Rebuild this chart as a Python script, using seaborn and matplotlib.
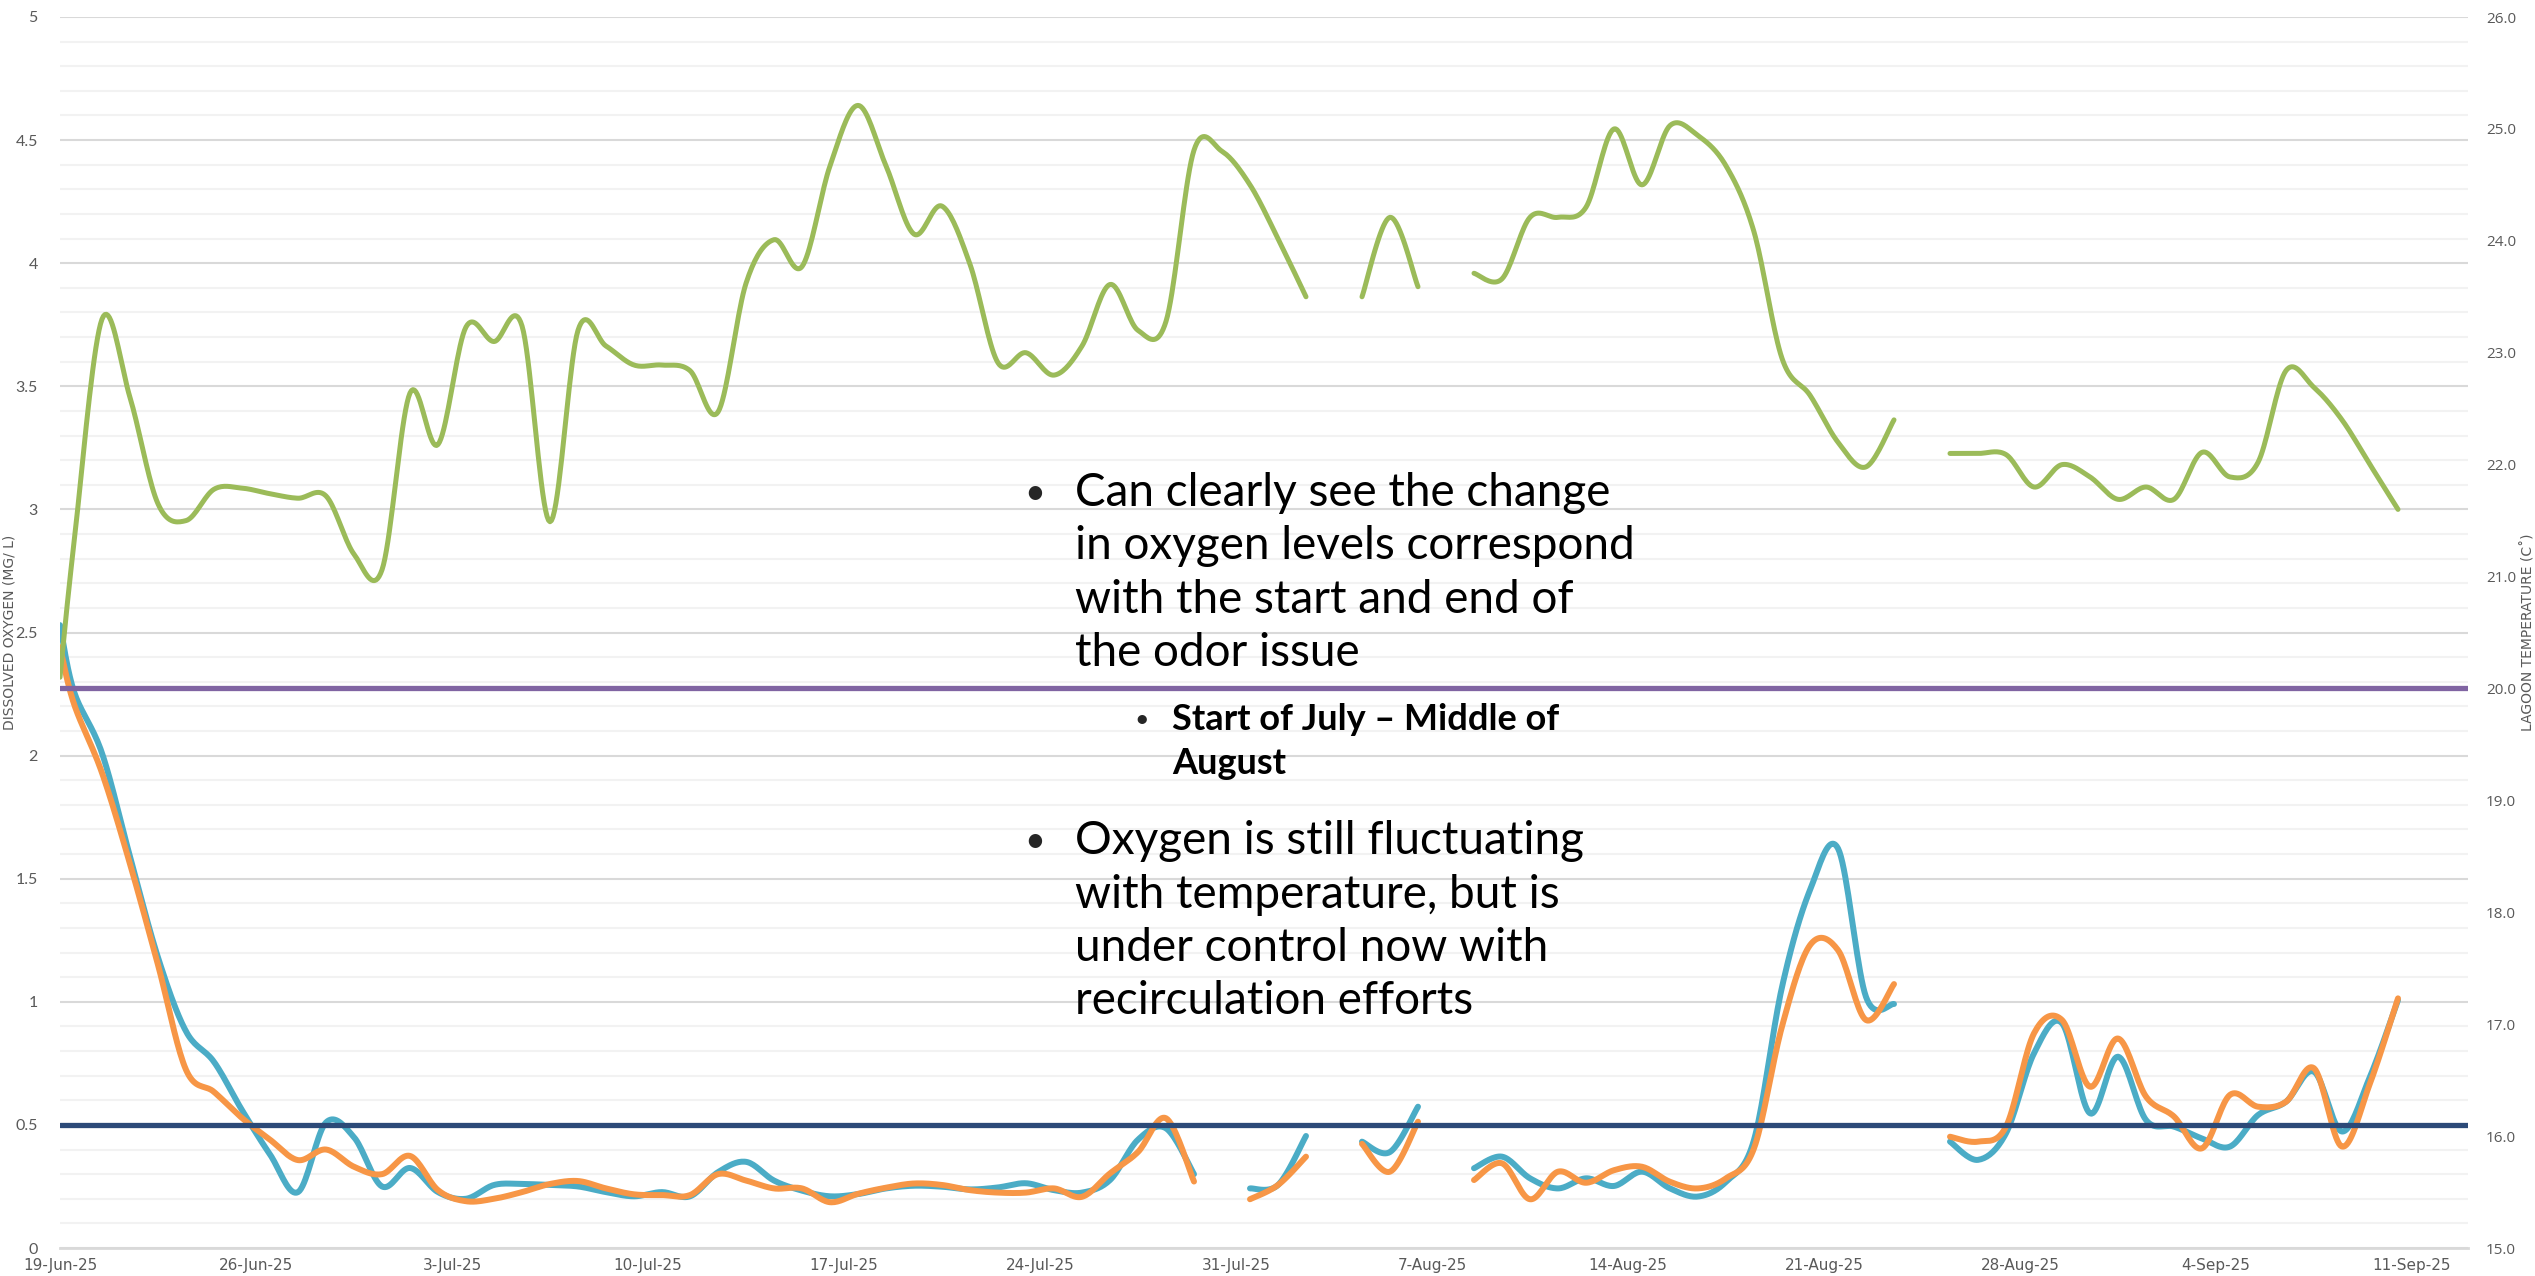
import numpy as np
import pandas as pd
import matplotlib
matplotlib.use("Agg")
import matplotlib.pyplot as plt
import seaborn as sns

sns.set_style("white")
plt.rcParams['font.family'] = ['Lato', 'DejaVu Sans']

# readings: first at midnight on 19-Jun, then daily around noon
start = pd.Timestamp("2025-06-19")
reading_times = pd.DatetimeIndex(["2025-06-19 00:00"]).append(
    pd.date_range("2025-06-19 12:00", periods=84, freq="D"))

nan = np.nan
lagoon_temp = [20.1, 21.3, 23.3, 22.6, 21.65, 21.5, 21.78, 21.79, 21.74, 21.7,
               21.72, 21.2, 21.06, 22.64, 22.18, 23.23, 23.1, 23.24, 21.49, 23.2,
               23.06, 22.89, 22.89, 22.84, 22.47, 23.62, 24.01, 23.77, 24.67, 25.21,
               24.67, 24.06, 24.31, 23.79, 22.91, 23.0, 22.8, 23.06, 23.61, 23.2,
               23.28, 24.81, 24.8, 24.5, 24.02, 23.5, nan, 23.5, 24.21, 23.59,
               nan, 23.71, 23.66, 24.21, 24.21, 24.3, 25.0, 24.5, 25.03, 24.94,
               24.67, 24.08, 22.95, 22.62, 22.2, 21.98, 22.4, nan, 22.1, 22.1,
               22.09, 21.8, 22.0, 21.89, 21.69, 21.8, 21.69, 22.11, 21.89, 22.02,
               22.84, 22.69, 22.4, 22.0, 21.6]

do_blue = [2.53, 2.26, 2.01, 1.59, 1.18, 0.88, 0.756, 0.56, 0.38, 0.227,
           0.51, 0.45, 0.25, 0.325, 0.227, 0.2, 0.256, 0.26, 0.256, 0.25,
           0.227, 0.21, 0.227, 0.21, 0.308, 0.35, 0.274, 0.233, 0.21, 0.219,
           0.242, 0.253, 0.249, 0.238, 0.246, 0.263, 0.235, 0.225, 0.276, 0.44,
           0.486, 0.30, nan, 0.242, 0.256, 0.455, nan, 0.432, 0.39, 0.574,
           nan, 0.324, 0.371, 0.283, 0.242, 0.283, 0.252, 0.31, 0.242, 0.209,
           0.269, 0.439, 1.06, 1.454, 1.623, 1.02, 0.991, nan, 0.432, 0.358,
           0.466, 0.791, 0.913, 0.547, 0.777, 0.52, 0.493, 0.445, 0.412, 0.54,
           0.594, 0.716, 0.473, 0.696, 1.007]

do_orange = [2.44, 2.21, 1.93, 1.56, 1.15, 0.724, 0.634, 0.528, 0.44, 0.357,
             0.40, 0.33, 0.30, 0.374, 0.235, 0.19, 0.2, 0.227, 0.26, 0.272,
             0.242, 0.218, 0.215, 0.215, 0.30, 0.274, 0.242, 0.242, 0.186, 0.22,
             0.245, 0.262, 0.256, 0.235, 0.225, 0.225, 0.242, 0.208, 0.303, 0.39,
             0.527, 0.27, nan, 0.198, 0.256, 0.371, nan, 0.423, 0.31, 0.513,
             nan, 0.276, 0.344, 0.198, 0.31, 0.265, 0.316, 0.33, 0.269, 0.242,
             0.283, 0.405, 0.9, 1.23, 1.21, 0.926, 1.072, nan, 0.452, 0.432,
             0.493, 0.872, 0.926, 0.655, 0.851, 0.615, 0.534, 0.405, 0.622, 0.574,
             0.594, 0.73, 0.412, 0.669, 1.014]

limit_times = pd.DatetimeIndex(["2025-06-19 00:00", "2025-09-13 12:00"])
temp_limit = [20.0, 20.0]
do_limit = [0.5, 0.5]

tick_labels = ["19-Jun-25", "26-Jun-25", "3-Jul-25", "10-Jul-25", "17-Jul-25",
               "24-Jul-25", "31-Jul-25", "7-Aug-25", "14-Aug-25", "21-Aug-25",
               "28-Aug-25", "4-Sep-25", "11-Sep-25"]


def to_days(t):
    return np.asarray((t - start) / pd.Timedelta(days=1), dtype=float)


def smooth(x, y, n=20):
    # excel style smoothed line, broken at missing values
    x = np.asarray(x, float)
    y = np.asarray(y, float)
    rows = []
    seg = 0
    ok = ~np.isnan(y)
    i = 0
    while i < len(y):
        if not ok[i]:
            i += 1
            continue
        j = i
        while j < len(y) and ok[j]:
            j += 1
        P = np.column_stack([x[i:j], y[i:j]])
        m = len(P)
        for k in range(m - 1):
            p0 = P[k - 1] if k > 0 else P[k]
            p3 = P[k + 2] if k + 2 < m else P[k + 1]
            c1 = P[k] + (P[k + 1] - p0) / 6
            c2 = P[k + 1] - (p3 - P[k]) / 6
            t = np.linspace(0, 1, n)[:, None]
            b = ((1 - t) ** 3 * P[k] + 3 * (1 - t) ** 2 * t * c1
                 + 3 * (1 - t) * t ** 2 * c2 + t ** 3 * P[k + 1])
            for bx, by in b:
                rows.append((bx, by, seg))
        seg += 1
        i = j
    return pd.DataFrame(rows, columns=["x", "y", "seg"])


days = to_days(reading_times)
lim_days = to_days(limit_times)

fig = plt.figure(figsize=(25.35, 12.76), dpi=100)
ax = fig.add_axes([60 / 2535, 28 / 1276, 2408 / 2535, 1231 / 1276])
ax2 = ax.twinx()

sns.lineplot(data=smooth(days, do_blue), x="x", y="y", units="seg", estimator=None,
             sort=False, color="#4BACC6", lw=4.3, solid_capstyle="round", ax=ax)
sns.lineplot(data=smooth(days, do_orange), x="x", y="y", units="seg", estimator=None,
             sort=False, color="#F79646", lw=4.3, solid_capstyle="round", ax=ax)
sns.lineplot(x=lim_days, y=do_limit, color="#2C4A78", lw=3.8,
             solid_capstyle="round", ax=ax)

sns.lineplot(data=smooth(days, lagoon_temp), x="x", y="y", units="seg", estimator=None,
             sort=False, color="#9BBB59", lw=3.6, solid_capstyle="round", ax=ax2)
sns.lineplot(x=lim_days, y=temp_limit, color="#8064A2", lw=3.8,
             solid_capstyle="round", ax=ax2)

ax.set_xlim(0, 86)
ax.set_ylim(0, 5)
ax2.set_ylim(15, 26)

ax.set_yticks(np.arange(0, 5.01, 0.5))
ax.set_yticks(np.arange(0, 5.01, 0.1), minor=True)
ax.set_yticklabels(["0", "0.5", "1", "1.5", "2", "2.5", "3", "3.5", "4", "4.5", "5"])
ax.grid(which="major", axis="y", color="#d9d9d9", lw=1.5)
ax.grid(which="minor", axis="y", color="#f2f2f2", lw=1.5)
ax.set_axisbelow(True)
ax.tick_params(axis="y", which="both", length=0, pad=16, labelsize=11.5,
               labelcolor="#595959")

ax.set_xticks(np.arange(0, 85, 7))
ax.set_xticklabels(tick_labels, fontfamily=["Liberation Sans Narrow", "DejaVu Sans"])
ax.tick_params(axis="x", length=5, width=1.5, color="#d9d9d9", pad=2,
               labelsize=11, labelcolor="#595959")

ax2.set_yticks(np.arange(15, 26.01, 1))
ax2.set_yticklabels([f"{v:.1f}" for v in np.arange(15, 26.01, 1)],
                    fontfamily=["Open Sans", "DejaVu Sans"])
ax2.tick_params(axis="y", length=0, pad=13, labelsize=11, labelcolor="#595959")

for a in (ax, ax2):
    for s in ("top", "left", "right"):
        a.spines[s].set_visible(False)
    a.set_xlabel("")
    a.set_ylabel("")
ax2.spines["bottom"].set_visible(False)
ax.spines["bottom"].set_color("#d9d9d9")
ax.spines["bottom"].set_linewidth(2)

narrow = ["Liberation Sans Narrow", "DejaVu Sans"]
fig.text(10 / 2535, 1 - 632 / 1276, "DISSOLVED OXYGEN (MG/ L)", rotation=90,
         ha="center", va="center", fontsize=10, color="#595959", fontfamily=narrow)
fig.text(2528 / 2535, 1 - 632 / 1276, "LAGOON TEMPERATURE (C˚)", rotation=90,
         ha="center", va="center", fontsize=10, color="#595959", fontfamily=narrow)


def px(x, y):
    return x / 2535, 1 - y / 1276


bullet1 = ["Can clearly see the change", "in oxygen levels correspond",
           "with the start and end of", "the odor issue"]
sub = ["Start of July \u2013 Middle of", "August"]
bullet2 = ["Oxygen is still fluctuating", "with temperature, but is",
           "under control now with", "recirculation efforts"]

fs_big = 33
for lines, y0 in ((bullet1, 493), (bullet2, 841)):
    fig.text(*px(1035, y0), "\u2022", ha="center", va="center", fontsize=26)
    for k, line in enumerate(lines):
        fig.text(*px(1075, y0 + 53.5 * k), line, ha="left", va="center",
                 fontsize=fs_big, color="black")
fig.text(*px(1142, 720), "\u2022", ha="center", va="center", fontsize=18)
for k, line in enumerate(sub):
    fig.text(*px(1172, 720 + 43.5 * k), line, ha="left", va="center",
             fontsize=26, fontweight="bold", color="black")

fig.savefig("out.png", dpi=100, facecolor="white")
